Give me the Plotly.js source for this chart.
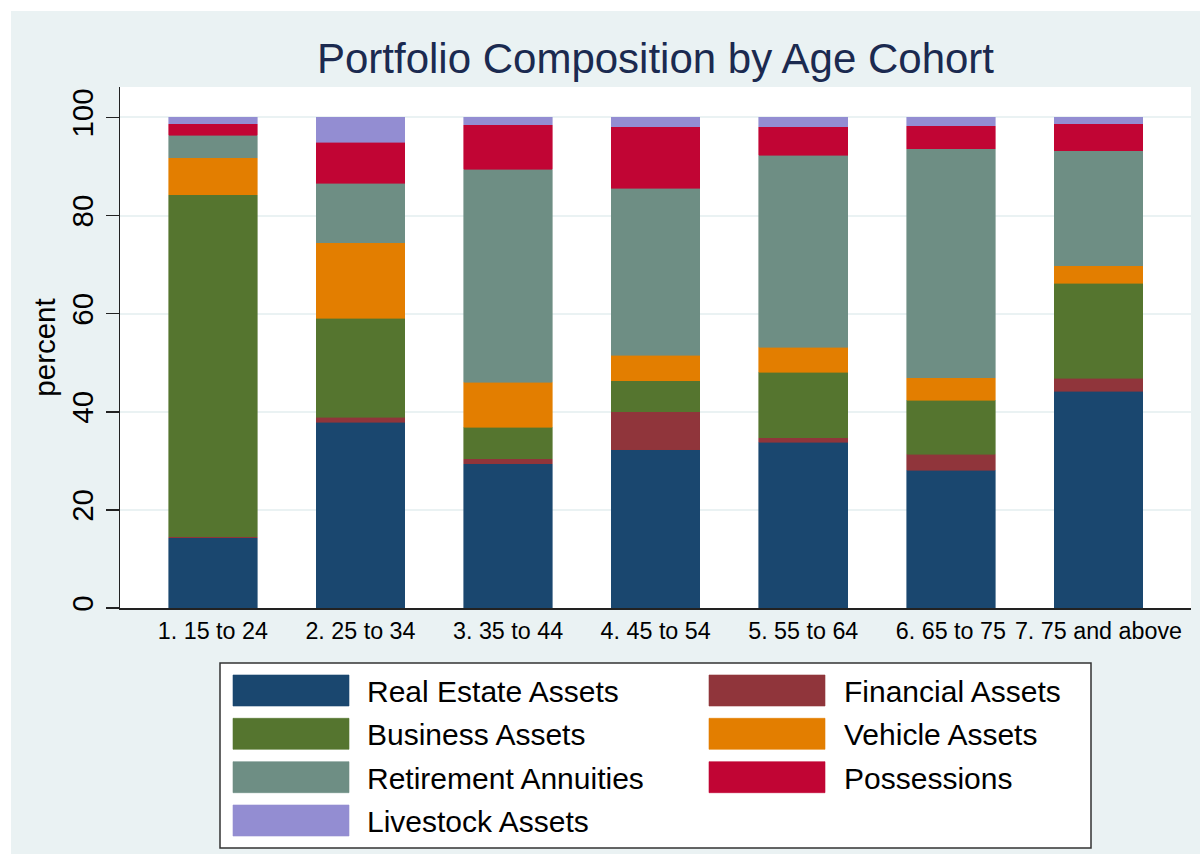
<!DOCTYPE html>
<html>
<head>
<meta charset="utf-8">
<script src="https://cdn.plot.ly/plotly-3.0.1.min.js"></script>
<style>
  html, body { margin: 0; padding: 0; background: #ffffff; width: 1200px; height: 854px; overflow: hidden; }
  #chart { position: absolute; left: 11px; top: 11px; width: 1189px; height: 843px; }
</style>
</head>
<body>
<div id="chart"></div>
<script>
// ---- Data ----
const categories = ["1. 15 to 24", "2. 25 to 34", "3. 35 to 44", "4. 45 to 54", "5. 55 to 64", "6. 65 to 75", "7. 75 and above"];
const seriesNames = ["Real Estate Assets", "Financial Assets", "Business Assets", "Vehicle Assets", "Retirement Annuities", "Possessions", "Livestock Assets"];
const realEstate  = [14.3, 37.9, 29.4, 32.3, 33.8, 28.1, 44.2];
const financial   = [0.2, 1.0, 1.0, 7.7, 0.9, 3.2, 2.6];
const business    = [69.7, 20.2, 6.4, 6.3, 13.4, 11.0, 19.4];
const vehicle     = [7.6, 15.4, 9.2, 5.2, 5.1, 4.6, 3.6];
const retirement  = [4.6, 12.1, 43.4, 34.1, 39.1, 46.7, 23.4];
const possessions = [2.3, 8.3, 9.1, 12.5, 5.8, 4.7, 5.5];
const livestock   = [1.3, 5.1, 1.5, 1.9, 1.9, 1.7, 1.3];
const yTickVals = [0, 20, 40, 60, 80, 100];

// ---- Styling ----
const colors = ["#1a476f", "#90353b", "#55752f", "#e37e00", "#6e8e84", "#c10534", "#938dd2"];
const seriesValues = [realEstate, financial, business, vehicle, retirement, possessions, livestock];
const FONT = "Liberation Sans, Arial, Helvetica, sans-serif";
const BG = "#eaf2f3";

const W = 1189, H = 843;
const M = { l: 109, r: 9, t: 76, b: 246 };
const plotW = W - M.l - M.r, plotH = H - M.t - M.b;
const px2x = px => (px - M.l) / plotW;
const py2y = py => (H - M.b - py) / plotH;

const traces = seriesNames.map((name, i) => ({
  type: "bar",
  name: name,
  x: categories,
  y: seriesValues[i],
  marker: { color: colors[i], line: { width: 0.6, color: colors[i] } },
  showlegend: false,
  hoverinfo: "x+y+name"
}));

// ---- Custom Stata-style legend (wide swatches, 2 columns) ----
const shapes = [];
const annotations = [];
shapes.push({
  type: "rect", xref: "paper", yref: "paper", layer: "above",
  x0: px2x(209), x1: px2x(1080), y0: py2y(652), y1: py2y(837),
  fillcolor: "#ffffff", line: { color: "#333333", width: 1.5 }
});
const colSwatchX = [222, 698];
const colTextX = [354, 831];
const rowTop = [664, 707.3, 750.7, 794];
const swH = 31, swW = 116;
seriesNames.forEach((name, i) => {
  const col = i % 2, row = Math.floor(i / 2);
  const x0 = colSwatchX[col], y0 = rowTop[row];
  shapes.push({
    type: "rect", xref: "paper", yref: "paper", layer: "above",
    x0: px2x(x0), x1: px2x(x0 + swW), y0: py2y(y0), y1: py2y(y0 + swH),
    fillcolor: colors[i], line: { color: colors[i], width: 0.6 }
  });
  annotations.push({
    xref: "paper", yref: "paper", x: px2x(colTextX[col]), y: py2y(y0 + swH / 2 + 1),
    xanchor: "left", yanchor: "middle", showarrow: false,
    text: name, font: { family: FONT, size: 30, color: "#000000" }
  });
});

const layout = {
  width: W, height: H,
  margin: M,
  paper_bgcolor: BG,
  plot_bgcolor: "#ffffff",
  barmode: "stack",
  bargap: 0.4,
  font: { family: FONT, color: "#000000" },
  title: {
    text: "Portfolio Composition by Age Cohort",
    font: { family: FONT, size: 42, color: "#1b2a50" },
    xref: "paper", x: 0.5, xanchor: "center",
    yref: "container", y: 1 - 47 / H, yanchor: "middle"
  },
  xaxis: {
    type: "category",
    range: [-0.629, 6.627],
    showgrid: false,
    zeroline: false,
    showline: true, linecolor: "#222222", linewidth: 1.5,
    ticks: "",
    tickfont: { family: FONT, size: 23.3, color: "#000000" },
    ticklabelstandoff: 2
  },
  yaxis: {
    range: [0, 106.2],
    tickvals: yTickVals,
    ticktext: yTickVals.map(String),
    tickangle: -90,
    ticks: "outside", ticklen: 13, tickwidth: 1.5, tickcolor: "#222222",
    tickfont: { family: FONT, size: 29.5, color: "#000000" },
    ticklabelstandoff: 1,
    showgrid: true, gridcolor: BG, gridwidth: 2,
    zeroline: false,
    showline: true, linecolor: "#222222", linewidth: 1.5,
    title: { text: "percent", font: { family: FONT, size: 29.5, color: "#000000" }, standoff: 1 }
  },
  shapes: shapes,
  annotations: annotations,
  showlegend: false
};

Plotly.newPlot("chart", traces, layout, { displayModeBar: false, staticPlot: true });
</script>
</body>
</html>
